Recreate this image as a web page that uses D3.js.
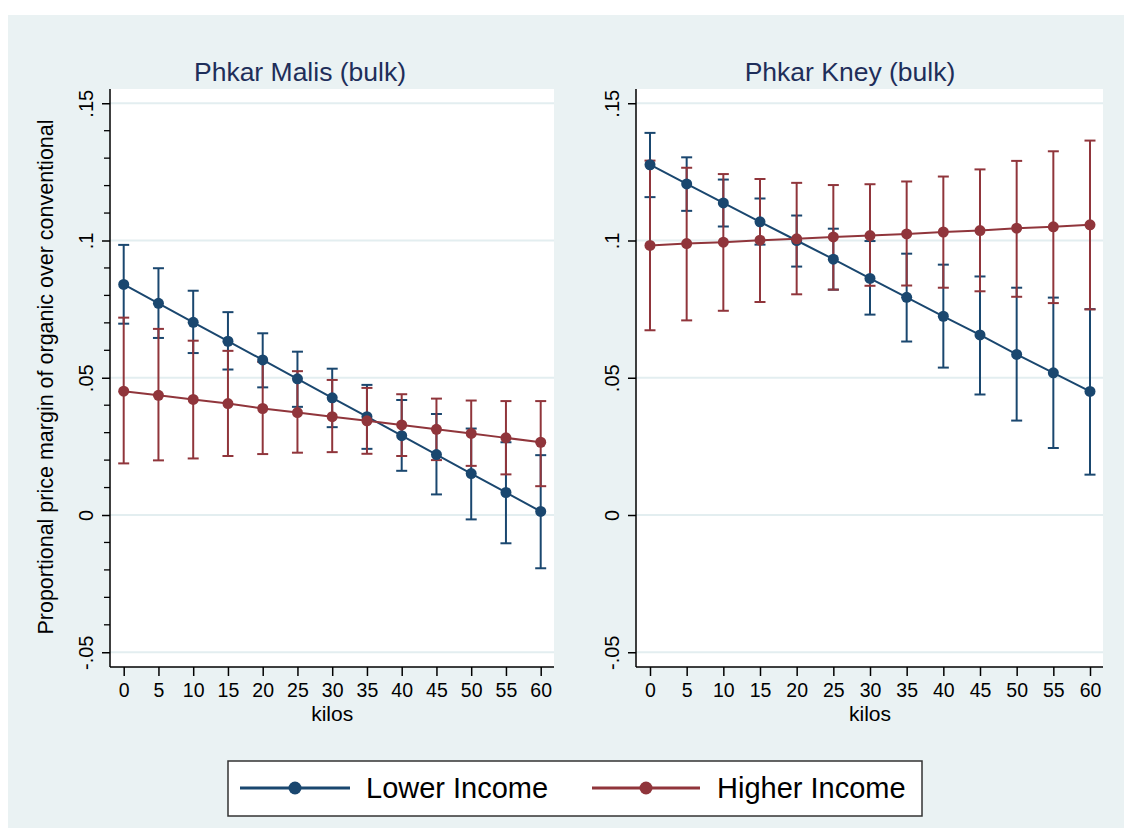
<!DOCTYPE html>
<html>
<head>
<meta charset="utf-8">
<script src="https://cdn.jsdelivr.net/npm/d3@7"></script>
<style>
  html, body { margin: 0; padding: 0; background: #ffffff; }
  svg { display: block; font-family: "Liberation Sans", Arial, Helvetica, sans-serif; }
</style>
</head>
<body>
<svg id="chart" width="1131" height="835"></svg>
<script>
// ---------- data ----------
const kilos = [0, 5, 10, 15, 20, 25, 30, 35, 40, 45, 50, 55, 60];
const yTicks = [-0.05, 0, 0.05, 0.1, 0.15];
const yTickLabels = ["-.05", "0", ".05", ".1", ".15"];
const panelTitles = ["Phkar Malis (bulk)", "Phkar Kney (bulk)"];
const seriesNames = ["Lower Income", "Higher Income"];
const xTitle = "kilos";
const yTitle = "Proportional price margin of organic over conventional";

// Phkar Malis
const maliLowerEst = [0.0840, 0.0771, 0.0702, 0.0633, 0.0565, 0.0496, 0.0427, 0.0358, 0.0289, 0.0220, 0.0151, 0.0082, 0.0013];
const maliLowerHi  = [0.0984, 0.0899, 0.0817, 0.0739, 0.0662, 0.0595, 0.0533, 0.0474, 0.0419, 0.0368, 0.0315, 0.0265, 0.0218];
const maliLowerLo  = [0.0697, 0.0645, 0.0590, 0.0530, 0.0465, 0.0394, 0.0320, 0.0241, 0.0161, 0.0075, -0.0016, -0.0103, -0.0194];
const maliHigherEst = [0.0451, 0.0436, 0.0421, 0.0406, 0.0388, 0.0373, 0.0358, 0.0343, 0.0328, 0.0312, 0.0297, 0.0281, 0.0265];
const maliHigherHi  = [0.0719, 0.0678, 0.0635, 0.0598, 0.0558, 0.0524, 0.0492, 0.0463, 0.0440, 0.0424, 0.0417, 0.0415, 0.0415];
const maliHigherLo  = [0.0188, 0.0199, 0.0206, 0.0215, 0.0222, 0.0227, 0.0229, 0.0223, 0.0215, 0.0200, 0.0179, 0.0148, 0.0105];

// Phkar Kney
const kneyLowerEst = [0.1276, 0.1206, 0.1137, 0.1068, 0.1000, 0.0932, 0.0862, 0.0793, 0.0724, 0.0656, 0.0585, 0.0518, 0.0450];
const kneyLowerHi  = [0.1392, 0.1303, 0.1222, 0.1153, 0.1091, 0.1043, 0.0998, 0.0952, 0.0912, 0.0869, 0.0828, 0.0792, 0.0750];
const kneyLowerLo  = [0.1158, 0.1108, 0.1051, 0.0985, 0.0905, 0.0821, 0.0730, 0.0632, 0.0537, 0.0439, 0.0344, 0.0244, 0.0147];
const kneyHigherEst = [0.0982, 0.0989, 0.0994, 0.1001, 0.1006, 0.1013, 0.1018, 0.1024, 0.1031, 0.1036, 0.1045, 0.1050, 0.1057];
const kneyHigherHi  = [0.1291, 0.1265, 0.1242, 0.1224, 0.1210, 0.1202, 0.1205, 0.1215, 0.1233, 0.1259, 0.1290, 0.1325, 0.1364];
const kneyHigherLo  = [0.0673, 0.0709, 0.0744, 0.0776, 0.0804, 0.0821, 0.0835, 0.0836, 0.0828, 0.0815, 0.0795, 0.0772, 0.0749];

// ---------- style ----------
const BLUE = "#1a476f";
const RED = "#90353b";
const BG = "#eaf2f3";
const GRID = "#e3eef0";

const svg = d3.select("#chart");

svg.append("rect").attr("x", 8).attr("y", 15).attr("width", 1116).attr("height", 813).attr("fill", BG);

const panels = [
  { title: panelTitles[0], titleX: 300, left: 110, right: 554, x0: 123.7, x60: 540.7, minor: true,
    series: [
      { est: maliLowerEst, lo: maliLowerLo, hi: maliLowerHi, color: BLUE },
      { est: maliHigherEst, lo: maliHigherLo, hi: maliHigherHi, color: RED }
    ] },
  { title: panelTitles[1], titleX: 850, left: 636, right: 1103, x0: 650, x60: 1090, minor: false,
    series: [
      { est: kneyLowerEst, lo: kneyLowerLo, hi: kneyLowerHi, color: BLUE },
      { est: kneyHigherEst, lo: kneyHigherLo, hi: kneyHigherHi, color: RED }
    ] }
];

const plotTop = 89, plotBottom = 667;
const y = d3.scaleLinear().domain([-0.05537, 0.15519]).range([plotBottom, plotTop]);

panels.forEach(p => {
  const x = d3.scaleLinear().domain([0, 60]).range([p.x0, p.x60]);
  const g = svg.append("g");

  // plot region
  g.append("rect").attr("x", p.left).attr("y", plotTop).attr("width", p.right - p.left).attr("height", plotBottom - plotTop).attr("fill", "#ffffff");

  // gridlines
  g.selectAll(".grid").data(yTicks).enter().append("line")
    .attr("x1", p.left).attr("x2", p.right)
    .attr("y1", d => y(d)).attr("y2", d => y(d))
    .attr("stroke", GRID).attr("stroke-width", 2);

  // title
  g.append("text").attr("x", p.titleX).attr("y", 81).attr("text-anchor", "middle")
    .attr("font-size", 26.5).attr("fill", "#1e2e5a").text(p.title);

  // y axis
  const yAxis = d3.axisLeft(y).tickValues(yTicks).tickSize(8).tickFormat((d, i) => yTickLabels[i]);
  const ya = g.append("g").attr("transform", `translate(${p.left},0)`).call(yAxis);
  ya.select(".domain").attr("d", `M0,${plotTop}V${plotBottom}`).attr("stroke", "#000").attr("stroke-width", 1.5);
  ya.selectAll(".tick line").attr("stroke", "#000").attr("stroke-width", 1.5);
  ya.selectAll(".tick text")
    .attr("font-size", 20).attr("fill", "#000")
    .attr("x", null).attr("dy", null)
    .attr("text-anchor", "middle")
    .attr("transform", "translate(-17,0) rotate(-90)");

  if (p.minor) {
    const minorTicks = d3.range(-0.05, 0.1501, 0.01).filter(v => !yTicks.some(t => Math.abs(t - v) < 1e-6));
    g.selectAll(".minor").data(minorTicks).enter().append("line")
      .attr("x1", p.left - 6).attr("x2", p.left)
      .attr("y1", d => y(d)).attr("y2", d => y(d))
      .attr("stroke", "#000").attr("stroke-width", 1.3);
  }

  // x axis
  const xAxis = d3.axisBottom(x).tickValues(kilos).tickSize(9).tickPadding(7);
  const xa = g.append("g").attr("transform", `translate(0,${plotBottom})`).call(xAxis);
  xa.select(".domain").attr("d", `M${p.left},0H${p.right}`).attr("stroke", "#000").attr("stroke-width", 1.5);
  xa.selectAll(".tick line").attr("stroke", "#000").attr("stroke-width", 1.5);
  xa.selectAll(".tick text").attr("font-size", 19.5).attr("fill", "#000");

  g.append("text").attr("x", (p.x0 + p.x60) / 2).attr("y", 721).attr("text-anchor", "middle")
    .attr("font-size", 21).attr("fill", "#000").text(xTitle);

  // error bars
  p.series.forEach(s => {
    const eg = g.append("g");
    kilos.forEach((k, i) => {
      const cx = x(k);
      eg.append("line").attr("x1", cx).attr("x2", cx).attr("y1", y(s.lo[i])).attr("y2", y(s.hi[i]))
        .attr("stroke", s.color).attr("stroke-width", 2);
      [s.lo[i], s.hi[i]].forEach(v => {
        eg.append("line").attr("x1", cx - 5.5).attr("x2", cx + 5.5).attr("y1", y(v)).attr("y2", y(v))
          .attr("stroke", s.color).attr("stroke-width", 2);
      });
    });
  });

  // lines and markers
  p.series.forEach(s => {
    const line = d3.line().x((d, i) => x(kilos[i])).y(d => y(d));
    g.append("path").datum(s.est).attr("d", line).attr("fill", "none")
      .attr("stroke", s.color).attr("stroke-width", 2);
    g.selectAll(null).data(s.est).enter().append("circle")
      .attr("cx", (d, i) => x(kilos[i])).attr("cy", d => y(d)).attr("r", 5.5)
      .attr("fill", s.color);
  });
});

// y title
svg.append("text").attr("transform", `translate(53,377) rotate(-90)`).attr("text-anchor", "middle")
  .attr("font-size", 21.5).attr("fill", "#000").text(yTitle);

// legend
const lg = svg.append("g");
lg.append("rect").attr("x", 228).attr("y", 761).attr("width", 694).attr("height", 55)
  .attr("fill", "#fff").attr("stroke", "#333").attr("stroke-width", 1.5);
const legendItems = [
  { name: seriesNames[0], color: BLUE, x1: 240, x2: 350, tx: 366 },
  { name: seriesNames[1], color: RED, x1: 592, x2: 700, tx: 717 }
];
legendItems.forEach(it => {
  lg.append("line").attr("x1", it.x1).attr("x2", it.x2).attr("y1", 788).attr("y2", 788)
    .attr("stroke", it.color).attr("stroke-width", 3);
  lg.append("circle").attr("cx", (it.x1 + it.x2) / 2).attr("cy", 788).attr("r", 6.5).attr("fill", it.color);
  lg.append("text").attr("x", it.tx).attr("y", 798).attr("font-size", 29).attr("fill", "#000").text(it.name);
});
</script>
</body>
</html>
